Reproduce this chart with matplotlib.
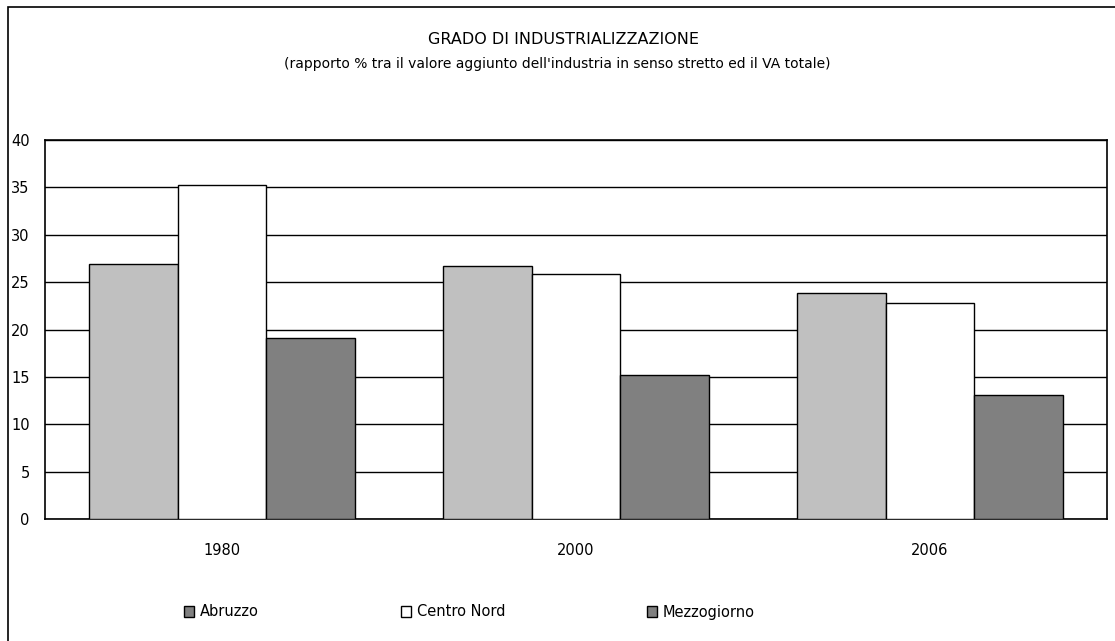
import numpy as np
import matplotlib
matplotlib.use("Agg")
import matplotlib.pyplot as plt
from matplotlib.patches import Patch, Rectangle

# Data
years = ["1980", "2000", "2006"]
series = ["Abruzzo", "Centro Nord", "Mezzogiorno"]
abruzzo = [26.9, 26.7, 23.9]
centro_nord = [35.2, 25.9, 22.8]
mezzogiorno = [19.1, 15.2, 13.1]
y_ticks = [0, 5, 10, 15, 20, 25, 30, 35, 40]

colors = ["#C0C0C0", "#FFFFFF", "#808080"]
legend_colors = ["#808080", "#FFFFFF", "#808080"]

plt.rcParams["font.family"] = ["DejaVu Sans"]

fig = plt.figure(figsize=(11.15, 6.41), dpi=100)
ax = fig.add_axes([45 / 1115, 1 - 519 / 641, (1107 - 45) / 1115, (519 - 140) / 641])

x = np.arange(len(years))
w = 0.25
for i, vals in enumerate([abruzzo, centro_nord, mezzogiorno]):
    ax.bar(x + (i - 1) * w, vals, width=w, color=colors[i],
           edgecolor="black", linewidth=1.0, zorder=3)

ax.set_xlim(-0.5, 2.5)
ax.set_ylim(0, 40)
ax.set_yticks(y_ticks)
ax.set_xticks(x)
ax.set_xticklabels(years)
ax.yaxis.grid(True, color="black", linewidth=1.0, zorder=0)
ax.tick_params(axis="both", length=0, labelsize=10.5)
ax.tick_params(axis="y", pad=11)
ax.tick_params(axis="x", pad=17)
for s in ax.spines.values():
    s.set_linewidth(1.2)
    s.set_color("black")

fig.text(0.505, 1 - 40 / 641, "GRADO DI INDUSTRIALIZZAZIONE",
         ha="center", va="center", fontsize=11.5)
fig.text(0.5, 1 - 64 / 641,
         "(rapporto % tra il valore aggiunto dell'industria in senso stretto ed il VA totale)",
         ha="center", va="center", fontsize=10)

handles = [Patch(facecolor=legend_colors[i], edgecolor="black", linewidth=1.0)
           for i in range(3)]
fig.legend(handles, series, ncol=3, frameon=False, fontsize=10.5,
           loc="center", bbox_to_anchor=(0.421, 1 - 612 / 641),
           handlelength=0.7, handleheight=0.7, handletextpad=0.4,
           columnspacing=9.7)

# outer chart border
fig.patches.append(Rectangle((8 / 1115, -0.05), 1.2, 1 - 7 / 641 + 0.05,
                             transform=fig.transFigure, fill=False,
                             edgecolor="black", linewidth=1.2))

fig.savefig("out.png", dpi=100)
